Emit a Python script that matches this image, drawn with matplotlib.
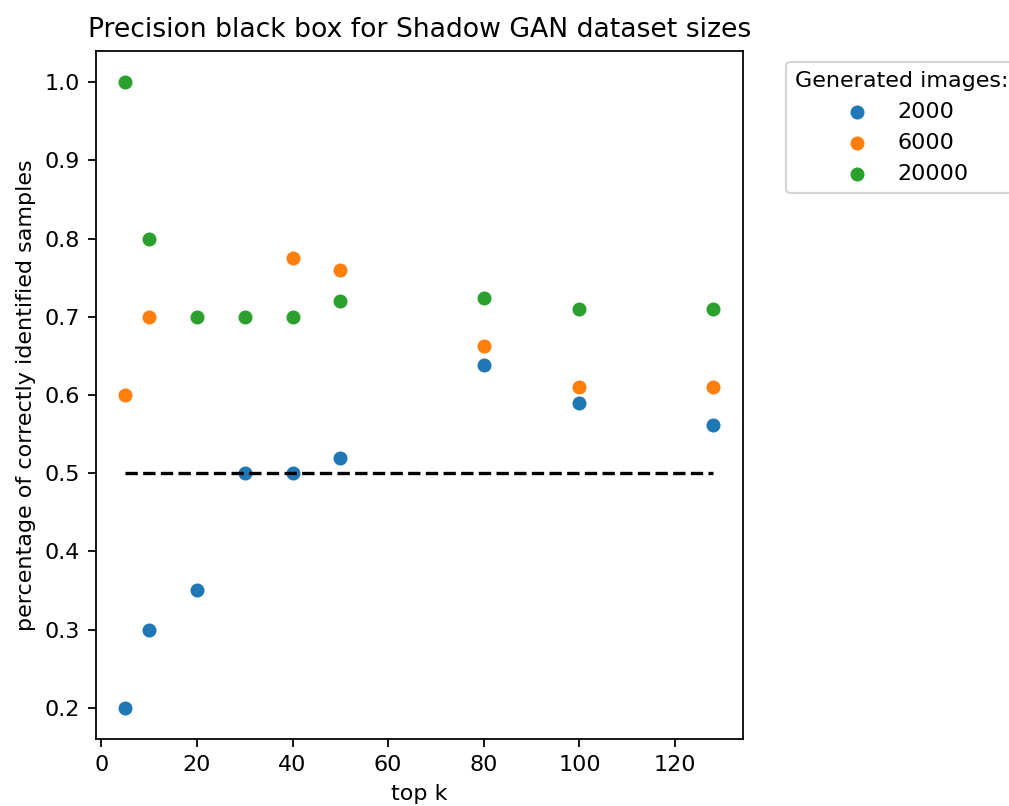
import numpy as np
import matplotlib
matplotlib.use("Agg")
import matplotlib.pyplot as plt

# top k values
top_k = [5, 10, 20, 30, 40, 50, 80, 100, 128]

# precision per generated image count
prec_2000 = [0.2, 0.3, 0.35, 0.5, 0.5, 0.52, 0.638, 0.59, 0.561]
prec_6000 = [0.6, 0.7, 0.7, 0.7, 0.775, 0.76, 0.662, 0.61, 0.61]
prec_20000 = [1.0, 0.8, 0.7, 0.7, 0.7, 0.72, 0.724, 0.71, 0.71]

baseline = 0.5

DPI = 160
fig = plt.figure(figsize=(1009 / DPI, 806 / DPI), dpi=DPI)
ax = fig.add_axes([0.095, 0.083, 0.641, 0.854])

# desenha series (ordem de desenho: laranja, azul, verde)
h6000 = ax.scatter(top_k, prec_6000, s=50, color="#ff7f0e", edgecolor="white", linewidth=0.75, label="6000")
h2000 = ax.scatter(top_k, prec_2000, s=50, color="#1f77b4", edgecolor="white", linewidth=0.75, label="2000")
h20000 = ax.scatter(top_k, prec_20000, s=50, color="#2ca02c", edgecolor="white", linewidth=0.75, label="20000")

# linha de referencia
ax.plot([top_k[0], top_k[-1]], [baseline, baseline], "k--", linewidth=1.5)

ax.set_title("Precision black box for Shadow GAN dataset sizes")
ax.set_xlabel("top k")
ax.set_ylabel("percentage of correctly identified samples")
ax.set_xticks(np.arange(0, 121, 20))
ax.set_yticks(np.arange(0.2, 1.01, 0.1))

ax.legend(handles=[h2000, h6000, h20000], title="Generated images:",
          loc="upper left", bbox_to_anchor=(1.05, 1))

fig.savefig("out.png", dpi=DPI)
